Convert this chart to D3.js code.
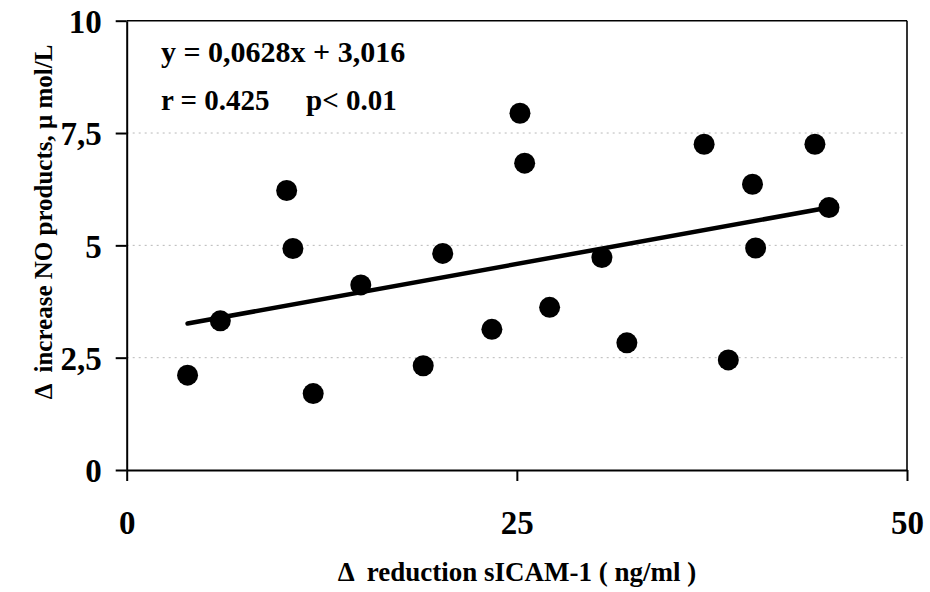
<!DOCTYPE html>
<html>
<head>
<meta charset="utf-8">
<script src="https://cdn.jsdelivr.net/npm/d3@7"></script>
<style>
  html, body { margin: 0; padding: 0; background: #fff; overflow: hidden; }
  svg { display: block; }
  text { font-family: "Liberation Serif", "Times New Roman", serif; font-weight: bold; fill: #000; }
</style>
</head>
<body>
<div id="chart"></div>
<script>
// data
const sicamReduction = [3.9, 6.0, 10.25, 10.65, 11.95, 15.0, 19.0, 20.25, 23.4, 25.2,
                        25.5, 27.1, 30.45, 32.05, 37.0, 38.55, 40.1, 40.3, 44.1, 45.0];
const noIncrease     = [2.11, 3.32, 6.22, 4.93, 1.70, 4.12, 2.32, 4.82, 3.13, 7.94,
                        6.83, 3.62, 4.73, 2.83, 7.25, 2.45, 6.36, 4.94, 7.25, 5.84];
const fitSlope = 0.0628;
const fitIntercept = 3.016;

const xTicks = [0, 25, 50];
const yTicks = [0, 2.5, 5, 7.5, 10];
const yTickLabels = ["0", "2,5", "5", "7,5", "10"];
const gridTicks = [2.5, 5, 7.5];

const equationText = "y = 0,0628x + 3,016";
const statsR = "r = 0.425";
const statsP = "p< 0.01";
const xTitle = "\u0394  reduction sICAM-1 ( ng/ml )";
const yTitle = "\u0394  increase NO products, \u03bc mol/L";

const width = 930, height = 592;
const margin = { top: 20.7, right: 23, bottom: 122, left: 126.7 };
const innerWidth = width - margin.left - margin.right;
const innerHeight = height - margin.top - margin.bottom;

/* containers */
const svg = d3.select("#chart")
  .append("svg")
    .attr("width", width)
    .attr("height", height);

const innerChart = svg.append("g")
  .attr("transform", `translate(${margin.left}, ${margin.top})`);

/* scales */
const xScale = d3.scaleLinear().domain([0, 50]).range([0, innerWidth]);
const yScale = d3.scaleLinear().domain([0, 10]).range([innerHeight, 0]);

/* gridlines */
innerChart.append("g")
  .selectAll("line")
  .data(gridTicks)
  .join("line")
    .attr("x1", 0)
    .attr("x2", innerWidth)
    .attr("y1", d => yScale(d))
    .attr("y2", d => yScale(d))
    .attr("stroke", "#b8b8b8")
    .attr("stroke-width", 1)
    .attr("stroke-dasharray", "2,4");

/* frame: top and right */
innerChart.append("line")
  .attr("x1", 0).attr("x2", innerWidth)
  .attr("y1", 0).attr("y2", 0)
  .attr("stroke", "#000").attr("stroke-width", 1.6);
innerChart.append("line")
  .attr("x1", innerWidth).attr("x2", innerWidth)
  .attr("y1", 0).attr("y2", innerHeight)
  .attr("stroke", "#000").attr("stroke-width", 1.6);

/* axes */
const leftAxis = d3.axisLeft(yScale)
  .tickValues(yTicks)
  .tickFormat((d, i) => yTickLabels[i])
  .tickSizeInner(11)
  .tickSizeOuter(0)
  .tickPadding(14);
const yAxisG = innerChart.append("g").call(leftAxis);

const bottomAxis = d3.axisBottom(xScale)
  .tickValues(xTicks)
  .tickSizeInner(11)
  .tickSizeOuter(0)
  .tickPadding(30);
const xAxisG = innerChart.append("g")
  .attr("transform", `translate(0, ${innerHeight})`)
  .call(bottomAxis);

[yAxisG, xAxisG].forEach(g => {
  g.select(".domain").attr("stroke", "#000").attr("stroke-width", 2);
  g.selectAll(".tick line").attr("stroke", "#000").attr("stroke-width", 2);
  g.selectAll(".tick text")
    .attr("font-family", "Liberation Serif, Times New Roman, serif")
    .attr("font-weight", "bold")
    .attr("font-size", 33)
    .attr("fill", "#000");
});
yAxisG.selectAll(".tick text").attr("dy", "0.36em");

/* regression line */
const xExtent = d3.extent(sicamReduction);
const lineGenerator = d3.line()
  .x(d => xScale(d))
  .y(d => yScale(fitSlope * d + fitIntercept));
innerChart.append("path")
  .datum(xExtent)
  .attr("d", lineGenerator)
  .attr("fill", "none")
  .attr("stroke", "#000")
  .attr("stroke-width", 4.5)
  .attr("stroke-linecap", "round");

/* points */
innerChart.append("g")
  .selectAll("circle")
  .data(d3.zip(sicamReduction, noIncrease))
  .join("circle")
    .attr("cx", d => xScale(d[0]))
    .attr("cy", d => yScale(d[1]))
    .attr("r", 10.5)
    .attr("fill", "#000");

/* annotation */
svg.append("text")
  .attr("x", 161)
  .attr("y", 62)
  .attr("font-size", 30)
  .text(equationText);
svg.append("text")
  .attr("x", 161)
  .attr("y", 110)
  .attr("font-size", 29)
  .text(statsR);
svg.append("text")
  .attr("x", 306)
  .attr("y", 110)
  .attr("font-size", 29)
  .text(statsP);

/* axis titles */
svg.append("text")
  .attr("x", 517)
  .attr("y", 581)
  .attr("text-anchor", "middle")
  .attr("font-size", 27)
  .style("white-space", "pre")
  .text(xTitle);

svg.append("text")
  .attr("transform", `translate(52, 222) rotate(-90)`)
  .attr("text-anchor", "middle")
  .attr("font-size", 25)
  .style("white-space", "pre")
  .text(yTitle);
</script>
</body>
</html>
